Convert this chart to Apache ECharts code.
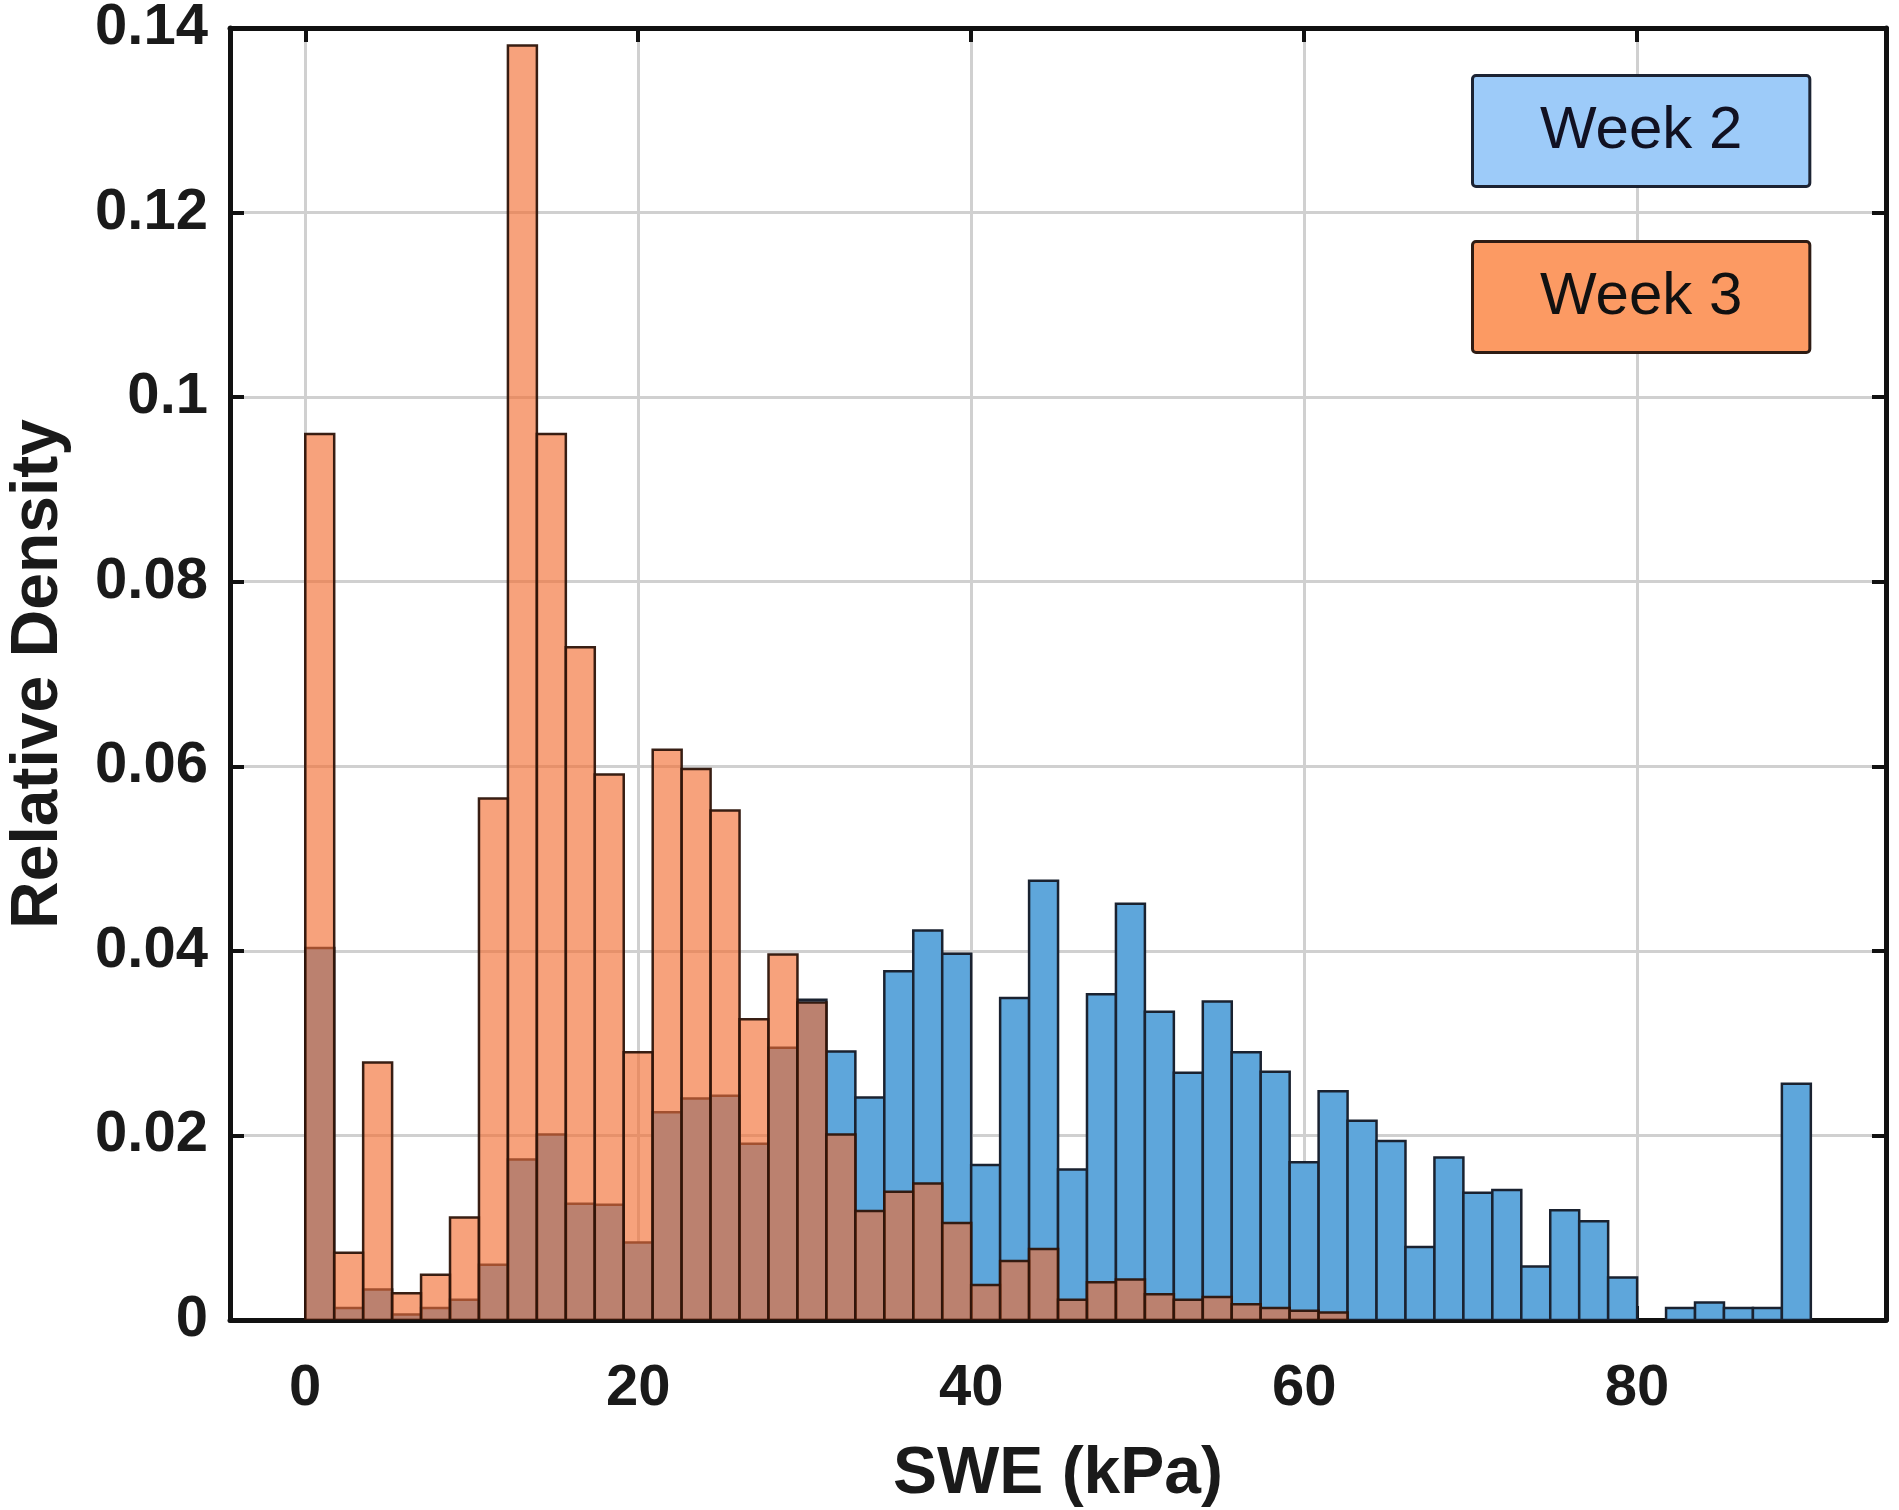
<!DOCTYPE html>
<html>
<head>
<meta charset="utf-8">
<script src="https://cdn.jsdelivr.net/npm/echarts@6/dist/echarts.min.js"></script>
<style>
html,body{margin:0;padding:0;background:#ffffff;}
#chart{width:1899px;height:1510px;}
</style>
</head>
<body>
<div id="chart"></div>
<script>
// ---- data ----
const SERIES_NAMES = ['Week 2', 'Week 3'];
const BIN_START = 0;            // first bin edge (kPa)
const BIN_WIDTH = 40 / 23;      // histogram bin width (kPa)
const WEEK2 = [
  0.0403, 0.0013, 0.0033, 0.0006, 0.0013, 0.0022, 0.0060, 0.0174, 0.0201, 0.0126,
  0.0125, 0.0084, 0.0225, 0.0240, 0.0243, 0.0191, 0.0295, 0.0347, 0.0291, 0.0241,
  0.0378, 0.0422, 0.0397, 0.0168, 0.0349, 0.0476, 0.0163, 0.0353, 0.0451, 0.0334,
  0.0268, 0.0345, 0.0290, 0.0269, 0.0171, 0.0248, 0.0216, 0.0194, 0.0079, 0.0176,
  0.0138, 0.0141, 0.0058, 0.0119, 0.0107, 0.0046, 0.0000, 0.0013, 0.0019, 0.0013,
  0.0013, 0.0256
];
const WEEK3 = [
  0.0960, 0.0073, 0.0279, 0.0029, 0.0049, 0.0111, 0.0565, 0.1381, 0.0960, 0.0729,
  0.0591, 0.0290, 0.0618, 0.0597, 0.0552, 0.0326, 0.0396, 0.0344, 0.0201, 0.0118,
  0.0139, 0.0148, 0.0105, 0.0038, 0.0064, 0.0077, 0.0022, 0.0041, 0.0044, 0.0028,
  0.0022, 0.0025, 0.0017, 0.0013, 0.0010, 0.0008, 0, 0, 0, 0,
  0, 0, 0, 0, 0, 0, 0, 0, 0, 0,
  0, 0
];
const X_TICKS = [0, 20, 40, 60, 80];
const Y_TICKS = [0, 0.02, 0.04, 0.06, 0.08, 0.1, 0.12, 0.14];
const X_RANGE = [-4.52, 94.95];
const Y_RANGE = [0, 0.14];
const X_TITLE = 'SWE (kPa)';
const Y_TITLE = 'Relative Density';

// ---- build histogram rows [lo, hi, value] ----
function toBins(values) {
  return values.map((v, i) => [BIN_START + i * BIN_WIDTH, BIN_START + (i + 1) * BIN_WIDTH, v]);
}

const FONT = "'Liberation Sans', Arial, Helvetica, sans-serif";

function makeRenderer(fill, stroke) {
  return function (params, api) {
    const lo = api.value(0), hi = api.value(1), v = api.value(2);
    if (!v) return null;
    const p0 = api.coord([lo, v]);
    const p1 = api.coord([hi, 0]);
    return {
      type: 'rect',
      shape: { x: p0[0], y: p0[1], width: p1[0] - p0[0], height: p1[1] - p0[1] },
      style: { fill: fill, stroke: stroke, lineWidth: 2.5 }
    };
  };
}

const chart = echarts.init(document.getElementById('chart'), null, { renderer: 'canvas' });

const axisLineStyle = { color: '#111111', width: 5 };
const tickStyle = { color: '#111111', width: 4 };

const option = {
  backgroundColor: '#ffffff',
  animation: false,
  grid: { left: 230, right: 13, top: 28, bottom: 190, containLabel: false, outerBoundsMode: 'none' },
  legend: {
    orient: 'vertical',
    left: 1464,
    top: 69,
    itemWidth: 0,
    itemHeight: 0,
    itemGap: 52,
    selectedMode: false,
    data: [
      {
        name: SERIES_NAMES[0],
        icon: 'rect',
        textStyle: {
          fontFamily: FONT, fontSize: 60, color: '#111122', lineHeight: 60,
          backgroundColor: '#9dcbf9', borderColor: '#1c2333', borderWidth: 3,
          borderRadius: 2, padding: [24, 66, 24, 66]
        }
      },
      {
        name: SERIES_NAMES[1],
        icon: 'rect',
        textStyle: {
          fontFamily: FONT, fontSize: 60, color: '#111111', lineHeight: 60,
          backgroundColor: '#fc9a63', borderColor: '#2e1c14', borderWidth: 3,
          borderRadius: 2, padding: [24, 66, 24, 66]
        }
      }
    ]
  },
  xAxis: [
    {
      type: 'value',
      min: X_RANGE[0], max: X_RANGE[1],
      position: 'bottom',
      name: X_TITLE,
      nameLocation: 'middle',
      nameGap: 122,
      nameTextStyle: { fontFamily: FONT, fontSize: 66, fontWeight: 'bold', color: '#1a1a1a' },
      axisLine: { show: true, onZero: false, lineStyle: axisLineStyle },
      axisTick: { show: true, inside: true, length: 14, lineStyle: tickStyle, customValues: X_TICKS },
      axisLabel: { show: true, margin: 40, fontFamily: FONT, fontSize: 58, fontWeight: 'bold', color: '#1a1a1a', customValues: X_TICKS },
      splitLine: { show: true, lineStyle: { color: '#d0d0d0', width: 3 } }
    },
    {
      type: 'value',
      min: X_RANGE[0], max: X_RANGE[1],
      position: 'top',
      axisLine: { show: true, onZero: false, lineStyle: axisLineStyle },
      axisTick: { show: true, inside: true, length: 14, lineStyle: tickStyle, customValues: X_TICKS },
      axisLabel: { show: false },
      splitLine: { show: false }
    }
  ],
  yAxis: [
    {
      type: 'value',
      min: Y_RANGE[0], max: Y_RANGE[1],
      position: 'left',
      name: Y_TITLE,
      nameLocation: 'middle',
      nameGap: 158,
      nameTextStyle: { fontFamily: FONT, fontSize: 66, fontWeight: 'bold', color: '#1a1a1a' },
      axisLine: { show: true, onZero: false, lineStyle: axisLineStyle },
      axisTick: { show: true, inside: true, length: 14, lineStyle: tickStyle, customValues: Y_TICKS },
      axisLabel: { show: true, margin: 22, fontFamily: FONT, fontSize: 58, fontWeight: 'bold', color: '#1a1a1a', customValues: Y_TICKS },
      splitLine: { show: true, lineStyle: { color: '#d0d0d0', width: 3 } }
    },
    {
      type: 'value',
      min: Y_RANGE[0], max: Y_RANGE[1],
      position: 'right',
      axisLine: { show: true, onZero: false, lineStyle: axisLineStyle },
      axisTick: { show: true, inside: true, length: 14, lineStyle: tickStyle, customValues: Y_TICKS },
      axisLabel: { show: false },
      splitLine: { show: false }
    }
  ],
  series: [
    {
      name: SERIES_NAMES[0],
      type: 'custom',
      xAxisIndex: 0, yAxisIndex: 0,
      renderItem: makeRenderer('rgb(94,166,219)', '#1a2230'),
      encode: { x: [0, 1], y: 2 },
      data: toBins(WEEK2),
      clip: true,
      z: 2,
      itemStyle: { color: '#9dcbf9' }
    },
    {
      name: SERIES_NAMES[1],
      type: 'custom',
      xAxisIndex: 0, yAxisIndex: 0,
      renderItem: makeRenderer('rgba(243,108,48,0.63)', 'rgba(45,20,10,0.95)'),
      encode: { x: [0, 1], y: 2 },
      data: toBins(WEEK3),
      clip: true,
      z: 3,
      itemStyle: { color: '#fc9a63' }
    }
  ]
};

chart.setOption(option);
</script>
</body>
</html>
